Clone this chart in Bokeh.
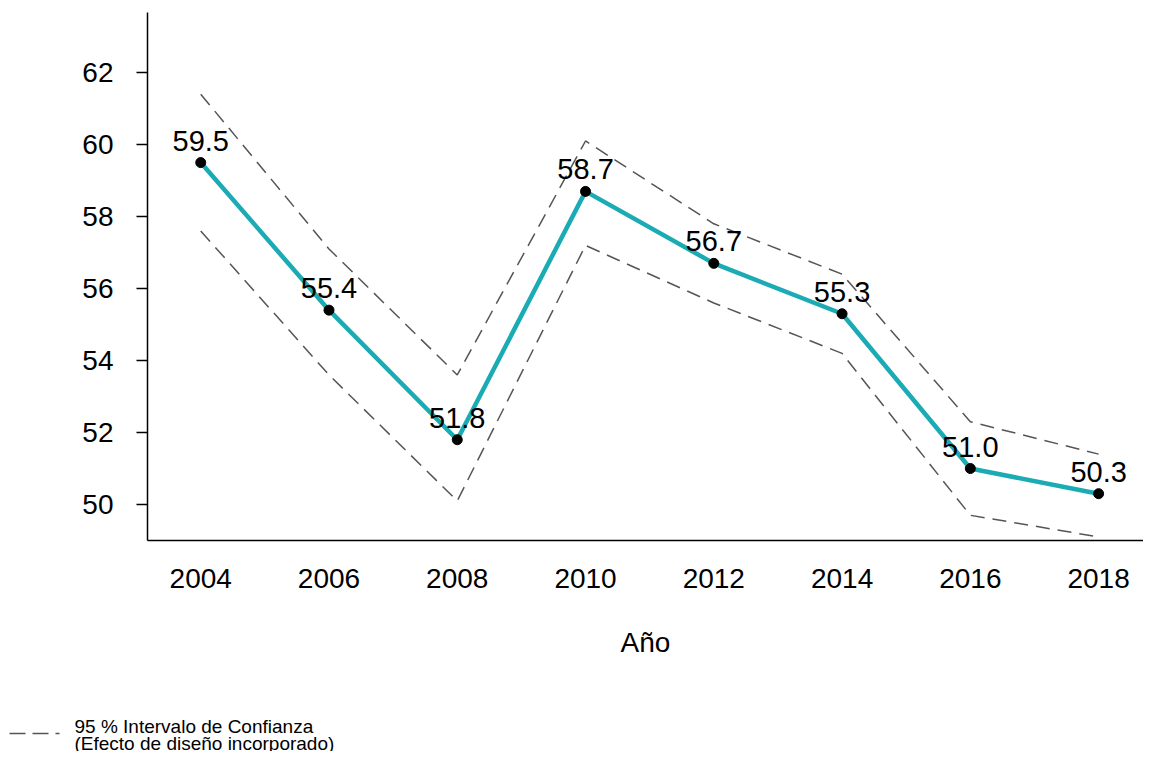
from bokeh.plotting import figure
from bokeh.models import Range1d, FixedTicker, ColumnDataSource
from bokeh.layouts import column
from bokeh.core.properties import value
from bokeh.embed import file_html
from bokeh.resources import INLINE

years = [2004, 2006, 2008, 2010, 2012, 2014, 2016, 2018]
values = [59.5, 55.4, 51.8, 58.7, 56.7, 55.3, 51.0, 50.3]
upper = [61.4, 57.1, 53.6, 60.1, 57.8, 56.4, 52.3, 51.4]
lower = [57.6, 53.6, 50.1, 57.2, 55.6, 54.2, 49.7, 49.1]
y_ticks = [50, 52, 54, 56, 58, 60, 62]
labels = ["%.1f" % v for v in values]
legend_lines = ["95 % Intervalo de Confianza", "(Efecto de diseño incorporado)"]

FONT = "Liberation Sans"
DASH = "14 8"
CI_COLOR = "#555555"

p = figure(width=1143, height=676, output_backend="svg", toolbar_location=None,
           x_range=Range1d(2003.17, 2018.70), y_range=Range1d(49.0, 63.67),
           min_border_left=147, min_border_right=0, min_border_top=12, min_border_bottom=136)
p.frame_align = False
p.outline_line_color = None
p.xgrid.visible = False
p.ygrid.visible = False

src = ColumnDataSource(dict(x=years, y=values, up=upper, lo=lower, lab=labels))

p.line("x", "up", source=src, line_color=CI_COLOR, line_width=1.5, line_dash=DASH)
p.line("x", "lo", source=src, line_color=CI_COLOR, line_width=1.5, line_dash=DASH)
p.line("x", "y", source=src, line_color="#1AABB5", line_width=4.5)
p.scatter("x", "y", source=src, size=10, fill_color="black", line_color="black")
p.text("x", "y", text="lab", source=src, text_font=value(FONT), text_font_size="29px",
       text_align="center", text_baseline="bottom", y_offset=-12, text_color="black")

# axes
p.xaxis.ticker = FixedTicker(ticks=years)
p.xaxis.major_tick_line_color = None
p.xaxis.minor_tick_line_color = None
p.xaxis.major_label_standoff = 22
p.xaxis.major_label_text_font = FONT
p.xaxis.major_label_text_font_size = "28px"
p.xaxis.major_label_text_color = "black"
p.xaxis.axis_line_width = 1.5
p.xaxis.axis_line_color = "black"
p.xaxis.axis_label = "Año"
p.xaxis.axis_label_text_font = FONT
p.xaxis.axis_label_text_font_size = "28px"
p.xaxis.axis_label_text_font_style = "normal"
p.xaxis.axis_label_text_color = "black"
p.xaxis.axis_label_standoff = 36

p.yaxis.ticker = FixedTicker(ticks=y_ticks)
p.yaxis.major_tick_out = 11
p.yaxis.major_tick_in = 0
p.yaxis.major_tick_line_width = 1.5
p.yaxis.major_tick_line_color = "black"
p.yaxis.minor_tick_line_color = None
p.yaxis.major_label_standoff = 23
p.yaxis.major_label_text_font = FONT
p.yaxis.major_label_text_font_size = "28px"
p.yaxis.major_label_text_color = "black"
p.yaxis.axis_line_width = 1.5
p.yaxis.axis_line_color = "black"

# legend strip below the chart (pixel coordinates, y downward)
LH = 75
lg = figure(width=420, height=LH, output_backend="svg", toolbar_location=None,
            x_range=Range1d(0, 420), y_range=Range1d(LH, 0),
            x_axis_type=None, y_axis_type=None,
            min_border_left=0, min_border_right=0, min_border_top=0, min_border_bottom=0)
lg.frame_align = False
lg.outline_line_color = None
lg.xgrid.visible = False
lg.ygrid.visible = False
lg.line([9, 59], [57, 57], line_color=CI_COLOR, line_width=1.5, line_dash="16 7")
lg.text([74, 74], [50, 67], text=legend_lines, text_font=value(FONT), text_font_size="19px",
        text_align="left", text_baseline="alphabetic", text_color="black")

layout = column(p, lg, spacing=0)
open("out.html", "w").write(file_html(layout, INLINE))
